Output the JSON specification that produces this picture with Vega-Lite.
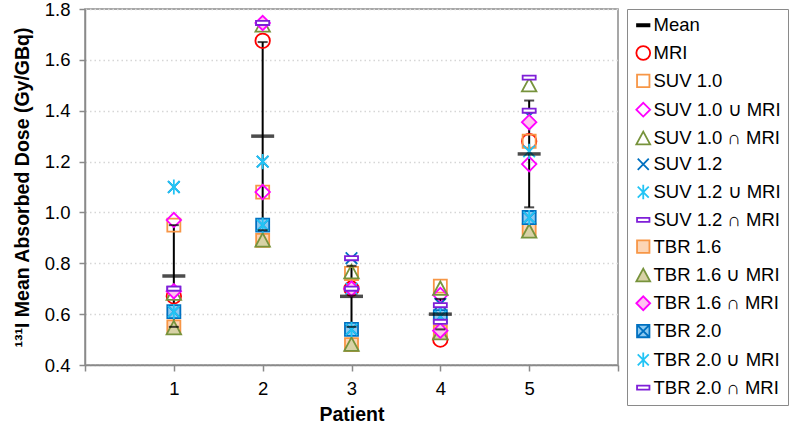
{
  "$schema": "https://vega.github.io/schema/vega-lite/v6.json",
  "width": 533,
  "height": 356,
  "autosize": {"type": "none"},
  "padding": {"left": 85, "top": 9, "right": 182, "bottom": 61},
  "background": "white",
  "config": {
    "font": "Liberation Sans",
    "view": {"stroke": "#8a8a8a", "strokeWidth": 1.5},
    "axis": {"labelFont": "Liberation Sans", "titleFont": "Liberation Sans", "labelColor": "black", "titleColor": "black", "domainColor": "#8a8a8a", "tickColor": "#8a8a8a", "domainWidth": 1.5, "tickWidth": 1.5}
  },
  "datasets": {
    "means": [
      {"p": 1, "mean": 0.75, "lo": 0.55, "hi": 0.95},
      {"p": 2, "mean": 1.30, "lo": 0.93, "hi": 1.67},
      {"p": 3, "mean": 0.67, "lo": 0.55, "hi": 0.79},
      {"p": 4, "mean": 0.60, "lo": 0.54, "hi": 0.66},
      {"p": 5, "mean": 1.23, "lo": 1.02, "hi": 1.44}
    ],
    "pts": [
      {"p": 1, "s": "MRI", "v": 0.67}, {"p": 2, "s": "MRI", "v": 1.675}, {"p": 3, "s": "MRI", "v": 0.70}, {"p": 4, "s": "MRI", "v": 0.50}, {"p": 5, "s": "MRI", "v": 1.28},
      {"p": 1, "s": "SUV 1.0", "v": 0.95}, {"p": 2, "s": "SUV 1.0", "v": 1.08}, {"p": 3, "s": "SUV 1.0", "v": 0.76}, {"p": 4, "s": "SUV 1.0", "v": 0.71}, {"p": 5, "s": "SUV 1.0", "v": 1.28},
      {"p": 1, "s": "SUV 1.0 ∪ MRI", "v": 0.97}, {"p": 2, "s": "SUV 1.0 ∪ MRI", "v": 1.08}, {"p": 3, "s": "SUV 1.0 ∪ MRI", "v": 0.70}, {"p": 4, "s": "SUV 1.0 ∪ MRI", "v": 0.675}, {"p": 5, "s": "SUV 1.0 ∪ MRI", "v": 1.19},
      {"p": 1, "s": "SUV 1.0 ∩ MRI", "v": 0.68}, {"p": 2, "s": "SUV 1.0 ∩ MRI", "v": 1.735}, {"p": 3, "s": "SUV 1.0 ∩ MRI", "v": 0.765}, {"p": 4, "s": "SUV 1.0 ∩ MRI", "v": 0.70}, {"p": 5, "s": "SUV 1.0 ∩ MRI", "v": 1.50},
      {"p": 1, "s": "SUV 1.2", "v": 1.10}, {"p": 2, "s": "SUV 1.2", "v": 1.20}, {"p": 3, "s": "SUV 1.2", "v": 0.82}, {"p": 4, "s": "SUV 1.2", "v": 0.64}, {"p": 5, "s": "SUV 1.2", "v": 1.38},
      {"p": 1, "s": "SUV 1.2 ∪ MRI", "v": 1.10}, {"p": 2, "s": "SUV 1.2 ∪ MRI", "v": 1.20}, {"p": 3, "s": "SUV 1.2 ∪ MRI", "v": 0.70}, {"p": 4, "s": "SUV 1.2 ∪ MRI", "v": 0.62}, {"p": 5, "s": "SUV 1.2 ∪ MRI", "v": 1.24},
      {"p": 1, "s": "SUV 1.2 ∩ MRI", "v": 0.70}, {"p": 2, "s": "SUV 1.2 ∩ MRI", "v": 1.745}, {"p": 3, "s": "SUV 1.2 ∩ MRI", "v": 0.82}, {"p": 4, "s": "SUV 1.2 ∩ MRI", "v": 0.635}, {"p": 5, "s": "SUV 1.2 ∩ MRI", "v": 1.53},
      {"p": 1, "s": "TBR 1.6", "v": 0.55}, {"p": 2, "s": "TBR 1.6", "v": 0.89}, {"p": 3, "s": "TBR 1.6", "v": 0.48}, {"p": 4, "s": "TBR 1.6", "v": 0.53}, {"p": 5, "s": "TBR 1.6", "v": 0.93},
      {"p": 1, "s": "TBR 1.6 ∪ MRI", "v": 0.545}, {"p": 2, "s": "TBR 1.6 ∪ MRI", "v": 0.89}, {"p": 3, "s": "TBR 1.6 ∪ MRI", "v": 0.48}, {"p": 4, "s": "TBR 1.6 ∪ MRI", "v": 0.525}, {"p": 5, "s": "TBR 1.6 ∪ MRI", "v": 0.925},
      {"p": 1, "s": "TBR 1.6 ∩ MRI", "v": 0.69}, {"p": 2, "s": "TBR 1.6 ∩ MRI", "v": 1.745}, {"p": 3, "s": "TBR 1.6 ∩ MRI", "v": 0.70}, {"p": 4, "s": "TBR 1.6 ∩ MRI", "v": 0.535}, {"p": 5, "s": "TBR 1.6 ∩ MRI", "v": 1.355},
      {"p": 1, "s": "TBR 2.0", "v": 0.61}, {"p": 2, "s": "TBR 2.0", "v": 0.95}, {"p": 3, "s": "TBR 2.0", "v": 0.54}, {"p": 4, "s": "TBR 2.0", "v": 0.59}, {"p": 5, "s": "TBR 2.0", "v": 0.98},
      {"p": 1, "s": "TBR 2.0 ∪ MRI", "v": 0.61}, {"p": 2, "s": "TBR 2.0 ∪ MRI", "v": 0.95}, {"p": 3, "s": "TBR 2.0 ∪ MRI", "v": 0.54}, {"p": 4, "s": "TBR 2.0 ∪ MRI", "v": 0.59}, {"p": 5, "s": "TBR 2.0 ∪ MRI", "v": 0.98},
      {"p": 1, "s": "TBR 2.0 ∩ MRI", "v": 0.70}, {"p": 2, "s": "TBR 2.0 ∩ MRI", "v": 1.745}, {"p": 3, "s": "TBR 2.0 ∩ MRI", "v": 0.70}, {"p": 4, "s": "TBR 2.0 ∩ MRI", "v": 0.57}, {"p": 5, "s": "TBR 2.0 ∩ MRI", "v": 1.40}
    ]
  },
  "encoding": {
    "x": {
      "type": "quantitative",
      "scale": {"domain": [0, 6], "nice": false, "zero": false},
      "axis": {
        "title": "Patient", "titleFontSize": 19.5, "titleFontWeight": "bold", "titlePadding": 8,
        "values": [0, 1, 2, 3, 4, 5, 6], "labelFontSize": 18.5, "tickSize": 6, "labelPadding": 8,
        "labelExpr": "datum.value >= 1 && datum.value <= 5 ? datum.label : ''",
        "grid": false
      }
    },
    "y": {
      "type": "quantitative",
      "scale": {"domain": [0.4, 1.8], "nice": false, "zero": false},
      "axis": {
        "title": "¹³¹I  Mean Absorbed Dose (Gy/GBq)", "titleFontSize": 19.5, "titleFontWeight": "bold", "titlePadding": 12,
        "values": [0.4, 0.6, 0.8, 1.0, 1.2, 1.4, 1.6, 1.8], "format": ".1f",
        "labelFontSize": 18.5, "tickSize": 6, "labelPadding": 9,
        "grid": true, "gridColor": "#d6d6d6", "gridDash": [1.5, 3], "gridWidth": 1.5
      }
    }
  },
  "layer": [
    {
      "data": {"name": "means"},
      "mark": {"type": "rule", "color": "black", "strokeWidth": 2},
      "encoding": {"x": {"field": "p"}, "y": {"field": "lo"}, "y2": {"field": "hi"}}
    },
    {
      "data": {"name": "pts"},
      "mark": {"type": "point", "size": 210, "strokeWidth": 1.8, "opacity": 1},
      "encoding": {
        "x": {"field": "p"},
        "y": {"field": "v"},
        "shape": {
          "field": "s", "type": "nominal",
          "scale": {
            "domain": ["Mean", "MRI", "SUV 1.0", "SUV 1.0 ∪ MRI", "SUV 1.0 ∩ MRI", "SUV 1.2", "SUV 1.2 ∪ MRI", "SUV 1.2 ∩ MRI", "TBR 1.6", "TBR 1.6 ∪ MRI", "TBR 1.6 ∩ MRI", "TBR 2.0", "TBR 2.0 ∪ MRI", "TBR 2.0 ∩ MRI"],
            "range": [
              "M-0.9,-0.15H0.9V0.15H-0.9Z",
              "circle",
              "M-0.9,-0.9H0.9V0.9H-0.9Z",
              "M-1,0L0,-1L1,0L0,1Z",
              "M0,-1L1,0.85H-1Z",
              "M-0.8,-0.8L0.8,0.8M-0.8,0.8L0.8,-0.8",
              "M-0.8,-0.8L0.8,0.8M-0.8,0.8L0.8,-0.8M0,-1.05L0,1.05",
              "M-0.9,-0.28H0.9V0.28H-0.9Z",
              "M-0.9,-0.9H0.9V0.9H-0.9Z",
              "M0,-1L1,0.85H-1Z",
              "M-1,0L0,-1L1,0L0,1Z",
              "M-0.9,-0.9H0.9V0.9H-0.9ZM-0.9,-0.9L0.9,0.9M-0.9,0.9L0.9,-0.9",
              "M-0.8,-0.8L0.8,0.8M-0.8,0.8L0.8,-0.8M0,-1.05L0,1.05",
              "M-0.9,-0.28H0.9V0.28H-0.9Z"
            ]
          },
          "legend": {
            "orient": "none", "legendX": 542, "legendY": 0, "title": null,
            "strokeColor": "#8a8a8a", "fillColor": "white", "padding": 7,
            "labelFontSize": 18.5, "labelFont": "Liberation Sans", "labelColor": "black",
            "symbolSize": 190, "symbolStrokeWidth": 1.8, "rowPadding": 6.8, "labelOffset": 1, "labelLimit": 220
          }
        },
        "stroke": {
          "field": "s", "type": "nominal",
          "scale": {
            "domain": ["Mean", "MRI", "SUV 1.0", "SUV 1.0 ∪ MRI", "SUV 1.0 ∩ MRI", "SUV 1.2", "SUV 1.2 ∪ MRI", "SUV 1.2 ∩ MRI", "TBR 1.6", "TBR 1.6 ∪ MRI", "TBR 1.6 ∩ MRI", "TBR 2.0", "TBR 2.0 ∪ MRI", "TBR 2.0 ∩ MRI"],
            "range": ["#000000", "#ff0000", "#f79646", "#ff00ff", "#77933c", "#0070c0", "#22c4f5", "#7f1fd8", "#f79646", "#77933c", "#ff00ff", "#0070c0", "#22c4f5", "#7f1fd8"]
          }
        },
        "fill": {
          "field": "s", "type": "nominal",
          "scale": {
            "domain": ["Mean", "MRI", "SUV 1.0", "SUV 1.0 ∪ MRI", "SUV 1.0 ∩ MRI", "SUV 1.2", "SUV 1.2 ∪ MRI", "SUV 1.2 ∩ MRI", "TBR 1.6", "TBR 1.6 ∪ MRI", "TBR 1.6 ∩ MRI", "TBR 2.0", "TBR 2.0 ∪ MRI", "TBR 2.0 ∩ MRI"],
            "range": ["#000000", "transparent", "transparent", "transparent", "transparent", "transparent", "transparent", "white", "#fcd5b5", "#d8d2a6", "#ffc4f0", "#8ecaf0", "transparent", "white"]
          }
        }
      }
    },
    {
      "data": {"name": "means"},
      "mark": {"type": "tick", "orient": "horizontal", "color": "black", "size": 10, "thickness": 2},
      "encoding": {"x": {"field": "p"}, "y": {"field": "lo"}}
    },
    {
      "data": {"name": "means"},
      "mark": {"type": "tick", "orient": "horizontal", "color": "black", "size": 10, "thickness": 2},
      "encoding": {"x": {"field": "p"}, "y": {"field": "hi"}}
    },
    {
      "data": {"name": "means"},
      "mark": {"type": "tick", "orient": "horizontal", "color": "black", "size": 23, "thickness": 3.5},
      "encoding": {"x": {"field": "p"}, "y": {"field": "mean"}}
    }
  ]
}
